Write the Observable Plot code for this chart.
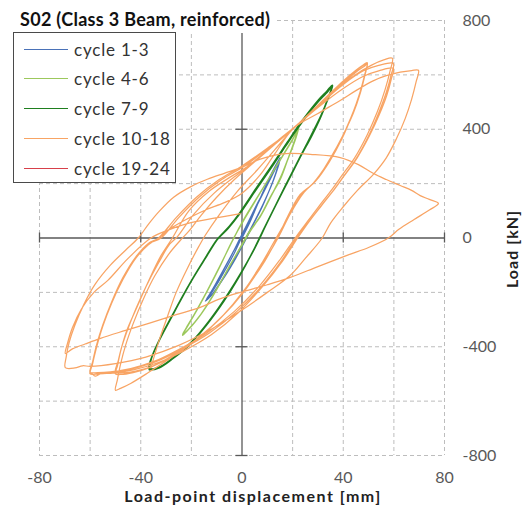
<!DOCTYPE html>
<html>
<head>
<meta charset="utf-8">
<script src="https://cdn.jsdelivr.net/npm/d3@7"></script>
<script src="https://cdn.jsdelivr.net/npm/@observablehq/plot@0.6"></script>
<style>
  html, body { margin: 0; padding: 0; background: #fff; }
  #wrap { position: relative; width: 529px; height: 511px; font-family: Lato, "Open Sans", sans-serif; }
  #title { position: absolute; left: 18px; top: 9px; padding: 0 4px 3px 2px; background: #fff; font-weight: bold; font-size: 18px; letter-spacing: 0.3px; color: #111; line-height: 21px; white-space: nowrap; }
  #legend { position: absolute; left: 13px; top: 32px; width: 161px; height: 149px; border: 1.2px solid #4a4a4a; background: #fff; }
  .row { position: absolute; left: 0; height: 30px; display: flex; align-items: center; }
  .sw { width: 44px; height: 0; margin-left: 10px; margin-right: 6px; }
  .lab { font-size: 17px; letter-spacing: 0.8px; color: #333; white-space: nowrap; }
</style>
</head>
<body>
<div id="wrap">
  <div id="chart"></div>
  <div id="title"></div>
  <div id="legend"></div>
</div>
<script>
// ---------- data ----------
const titleText = "S02 (Class 3 Beam, reinforced)";
const xLabel = "Load-point displacement [mm]";
const yLabel = "Load [kN]";
const seriesNames = ["cycle 1-3", "cycle 4-6", "cycle 7-9", "cycle 10-18", "cycle 19-24"];
const seriesColors = ["#4a72b8", "#9cc85c", "#1f7f1f", "#f8a464", "#d7404a"];
const xTicks = [-80, -40, 0, 40, 80];
const yTicks = [-800, -400, 0, 400, 800];
const xGrid = [-80, -60, -40, -20, 20, 40, 60, 80];
const yGrid = [-800, -600, -400, -200, 200, 400, 600, 800];

// displacement [mm], load [kN]
const cycles1to3 = [
  [0,0],[3,55],[6,120],[9,185],[11,225],[13,262],[15.1,296],
  [13.5,270],[11,222],[7.5,152],[3.5,75],[0,5],[-3,-55],[-6.5,-115],[-10,-172],[-12.5,-208],[-14.5,-232],
  [-13,-220],[-10,-185],[-6,-130],[-2.5,-75],[1,-15],[4.5,50],[8,115],[11,180],[13.2,235],[14.6,280],
  [13.6,262],[10.5,205],[6.5,135],[2.5,60],[-1,-5],[-4.5,-70],[-8,-130],[-11,-180],[-13.5,-220],
  [-12.2,-212],[-9.5,-178],[-5.5,-122],[-2,-62],[1.5,0],[5,62],[8.5,128],[11.5,190],[13.5,240],[15,285],
  [13.8,265],[10.8,210],[7,140],[3,65],[-0.5,0],[-4,-60],[-7.5,-120],[-10.5,-170],[-13,-210],[-14,-225],
  [-12.5,-215],[-9,-170],[-5,-110],[-1.5,-50],[1.5,0]
];
const cycles4to6 = [
  [1.5,0],[4,35],[7.2,80],[11,148],[15.1,215],[18.5,300],[20.8,360],[22.5,412],
  [20.5,372],[17.5,325],[12,240],[6,150],[1.5,82],[-1,40],[-4,-15],[-8.6,-100],[-13.5,-190],[-18.5,-275],[-22,-330],[-23.5,-358],
  [-21.5,-340],[-16.5,-285],[-10.5,-195],[-5.8,-119],[-1,-40],[3,25],[7.2,78],[11.2,148],[15,218],[18.5,300],[21,365],[22.3,405],
  [20,362],[16.5,310],[11,225],[5.5,140],[1,70],[-1.5,30],[-4.5,-22],[-9,-110],[-14,-200],[-19,-285],[-22.5,-340],[-23.2,-352],
  [-21,-335],[-16,-278],[-10,-190],[-5.5,-112],[-0.5,-35],[3.5,30],[7.5,85],[11.5,155],[15.3,225],[18.8,305],[21.3,368],[22.5,410],
  [20.2,365],[16.8,312],[11.5,232],[5.8,145],[1.2,75],[-1.2,35],[-4.2,-18],[-8.8,-105],[-13.8,-195],[-18.8,-280],[-22.3,-335],[-23.5,-355],
  [-21.3,-337],[-16.2,-280],[-10.2,-192],[-5.6,-115],[-1,-40],[3,25]
];
const cycles7to9 = [
  [-1,-140],[4,-55],[9,40],[16.3,175],[23,297],[27.5,375],[30.9,441],[33.8,510],[35.7,562],
  [33.5,540],[30.1,507],[23,422],[17.9,352],[12.4,275],[5.6,183],[-0.7,95],[-5,43],[-9.4,-1],[-14.5,-75],[-19.2,-145],[-23.5,-215],[-27.1,-277],[-32.3,-369],[-35.3,-430],[-36.6,-465],[-36.6,-483],
  [-32.6,-477],[-27.5,-445],[-21,-395],[-14,-320],[-7,-230],[-1,-140],[4,-55],[9,40],[16.3,175],[23,297],[30.9,441],[34,515],[35.5,555],
  [33,530],[29.5,495],[22.5,410],[17.2,338],[11.8,262],[5,170],[-1.2,85],[-5.5,35],[-10,-8],[-15,-82],[-19.8,-155],[-24,-225],[-27.6,-287],[-32.6,-375],[-35.5,-435],[-36.4,-470],[-36.2,-480],
  [-32,-472],[-26.5,-435],[-20,-383],[-13,-305],[-6,-212],[0,-122],[5,-38],[10,58],[17,190],[23.6,310],[31.2,450],[34.3,520],[35.8,560],
  [33.6,535],[30,503],[22.8,418],[17.5,346],[12,268],[5.3,176],[-1,90],[-5.2,40],[-9.7,-4],[-14.8,-78],[-19.5,-150],[-23.8,-220],[-27.4,-282],[-32.5,-372],[-35.4,-432],[-36.5,-468],[-36.6,-485]
];
const cycles10to18 = [
  [-36,-478],[-34.5,-430],[-32.5,-370],[-29.5,-290],[-26,-200],[-21.5,-110],[-17,-30],[-14.5,10],[-9,85],[-2,170],[6,250],[13,325],[20,400],[27,462],[34,525],[40,578],[45,617],[48,637],[49.5,645],
  [48.6,605],[46.6,535],[43.6,455],[39.5,365],[34.5,280],[29,208],[24,165],[18.5,80],[13.5,0],[8,-90],[1,-190],[-8,-290],[-18,-375],[-28,-440],[-37,-495],[-44,-535],[-48,-553],[-50,-560],
  [-49.3,-525],[-48,-465],[-46,-395],[-43,-315],[-39,-225],[-34.5,-140],[-29,-60],[-24.5,-10],[-21,25],[-16,85],[-10,150],[-3,215],[5,280],[13,345],[20.3,403],[27,457],[34,517],[40,570],[45,610],[48.5,633],[49.5,640],
  [48.3,592],[46.2,522],[43,442],[39,360],[34,277],[28,200],[23,160],[18,78],[14,0],[9,-85],[2,-180],[-7,-280],[-17,-365],[-27,-430],[-35,-470],[-42,-490],[-47,-496],[-50,-494],
  [-49,-455],[-47.5,-400],[-45.5,-340],[-42,-265],[-37,-160],[-32,-65],[-27.5,0],[-21,100],[-13,172],[-5,222],[2,262],[9,315],[15,365],[20.3,405],[27,460],[34,520],[40,575],[45,615],[48.5,638],[49.5,642],
  [48.6,600],[46.8,535],[44,460],[40,380],[35,295],[29.5,215],[24.5,168],[19,88],[14.5,5],[8.5,-90],[1,-195],[-9,-300],[-19,-380],[-28,-438],[-36,-475],[-43,-495],[-48,-502],[-50,-500],
  [-49.2,-470],[-47.8,-410],[-45.5,-345],[-42,-262],[-38,-180],[-33,-92],[-28.5,-22],[-25.5,5],[-19,88],[-11,165],[-3,225],[5,282],[12.5,345],[20,402],[28,468],[36,535],[44,595],[51,635],[56,655],[59.4,661],
  [58.5,615],[56.5,545],[53.5,465],[49.5,380],[44.5,295],[39.5,230],[35.5,178],[30,112],[25,50],[21,0],[15,-80],[7,-175],[-3,-270],[-14,-350],[-25,-410],[-35,-455],[-44,-480],[-52,-492],[-57,-495],[-60,-494],
  [-59,-455],[-57.5,-395],[-55,-320],[-51.5,-235],[-47,-145],[-42,-70],[-37,-20],[-33,0],[-26,75],[-18,150],[-9,215],[0,265],[10,330],[20,400],[30,485],[40,565],[48,615],[54,635],[59.8,642],
  [58.9,600],[57,535],[54,460],[50,375],[45,290],[40,225],[36.5,180],[31,115],[26,55],[21.5,0],[15.5,-85],[7.5,-180],[-2,-270],[-13,-350],[-24,-410],[-34,-455],[-44,-482],[-52,-496],[-57,-500],[-60,-500],
  [-59,-462],[-57.5,-400],[-55,-325],[-51.6,-240],[-47,-150],[-42,-72],[-37,-22],[-32,0],[-25,75],[-17,150],[-8,215],[1,265],[11,335],[20.5,405],[30,480],[40,550],[48,595],[54,615],[59.8,624],
  [59,585],[57.2,525],[54.3,455],[50.3,375],[45.5,295],[40.5,230],[37,185],[31.5,120],[26.5,60],[22,0],[16,-85],[8,-180],[-1.5,-275],[-12,-355],[-23,-415],[-33,-458],[-43,-485],[-51,-497],[-56,-500],[-58,-508],[-59.3,-499],[-60,-496],
  [-59,-460],[-57.4,-400],[-55,-325],[-51.5,-240],[-47,-152],[-42,-75],[-37,-25],[-33,0],[-27.5,39],[-20,78],[-14,105],[-7,130],[0,165],[7,230],[13,310],[20.3,403],[30,458],[38.8,506],[45,542],[51.8,578],[57,597],[62.5,610],[67,616],[69.7,617],
  [68.8,575],[67,510],[64.5,440],[61,365],[57,295],[52,235],[45.6,175],[40,115],[35,55],[31.7,0],[25,-75],[19,-138],[10,-200],[0,-265],[-12,-335],[-25,-395],[-38,-438],[-50,-462],[-60,-472],[-63,-470],[-66,-478],[-69.8,-477],
  [-69.5,-440],[-68.3,-385],[-66,-320],[-62.5,-245],[-58,-170],[-52,-100],[-46,-45],[-41,0],[-37,50],[-33,95],[-27,150],[-20,190],[-13.7,216],[-7,238],[-0.7,258],[7.2,290],[13,305],[19,311],[27,308],[38.8,296],[46,270],[51.8,238],[57,215],[62.5,193],[67,175],[70.4,156],[74,142],[77.6,127],
  [74,103],[68,68],[62,32],[57.8,0],[50,-35],[42,-62],[30,-105],[19.1,-145],[10,-172],[-0.7,-200],[-9,-225],[-16.5,-255],[-26,-282],[-36.2,-312],[-46,-340],[-55.9,-369],[-62,-390],[-67,-408],[-69.8,-425],
  [-69,-390],[-67,-330],[-63.5,-262],[-58.5,-200],[-53,-156],[-45,-75],[-36,0],[-29,30],[-21.6,53],[-11,73],[-0.7,90]
];
const cycles19to24 = [];

const allSeries = [cycles1to3, cycles4to6, cycles7to9, cycles10to18, cycles19to24];
const widths = [1.2, 1.3, 1.6, 1.25, 1.2];

// ---------- chart ----------
const axisColor = "#595959";
const lineMarks = allSeries.map((s, i) =>
  Plot.line(s, {x: d => d[0], y: d => d[1], stroke: seriesColors[i], strokeWidth: widths[i], curve: "catmull-rom"})
);

const chart = Plot.plot({
  width: 529,
  height: 511,
  marginLeft: 39,
  marginRight: 85,
  marginTop: 20,
  marginBottom: 56,
  style: {fontFamily: "Lato, 'Open Sans', sans-serif", fontSize: "16px", color: axisColor, background: "#fff", overflow: "visible"},
  x: {domain: [-80, 80], ticks: xTicks, tickSize: 0, tickPadding: 16, label: null, tickFormat: d => String(d)},
  y: {domain: [-800, 800], axis: "right", ticks: yTicks, tickSize: 0, tickPadding: 18, label: null, tickFormat: d => String(d)},
  marks: [
    Plot.ruleX(xGrid, {x: d => d, stroke: "#bdbdbd", strokeWidth: 1, strokeDasharray: "4,3"}),
    Plot.ruleY(yGrid, {y: d => d, stroke: "#bdbdbd", strokeWidth: 1, strokeDasharray: "4,3"}),
    Plot.ruleX([0], {stroke: axisColor, strokeWidth: 1.3}),
    Plot.ruleY([0], {stroke: axisColor, strokeWidth: 1.3}),
    Plot.ruleX(xTicks, {x: d => d, y1: d => 0, y2: d => 0, insetTop: -5, insetBottom: -5, stroke: axisColor, strokeWidth: 1.3}),
    Plot.ruleY(yTicks, {y: d => d, x1: d => 0, x2: d => 0, insetLeft: -6, insetRight: -6, stroke: axisColor, strokeWidth: 1.3}),
    ...lineMarks,
    Plot.text([xLabel], {text: d => d, frameAnchor: "bottom", dx: 11, dy: 46, fontWeight: "bold", fontSize: 16, fill: "#222"}),
    Plot.text([yLabel], {text: d => d, frameAnchor: "right", textAnchor: "middle", rotate: -90, dx: 68, dy: 11, fontWeight: "bold", fontSize: 16, fill: "#222"})
  ]
});
document.getElementById("chart").appendChild(chart);
// widen the axis titles like the original's font
d3.select(chart).selectAll("text").filter(function () { return this.textContent === xLabel; }).style("letter-spacing", "1.5px");
d3.select(chart).selectAll("text").filter(function () { return this.textContent === yLabel; }).style("letter-spacing", "1px");

// title and legend (overlaid like the original chart)
document.getElementById("title").textContent = titleText;
const legend = document.getElementById("legend");
seriesNames.forEach((name, i) => {
  const row = document.createElement("div");
  row.className = "row";
  row.style.top = (1 + i * 29.8) + "px";
  const sw = document.createElement("div");
  sw.className = "sw";
  sw.style.borderTop = "1.6px solid " + seriesColors[i];
  const lab = document.createElement("span");
  lab.className = "lab";
  lab.textContent = name;
  row.appendChild(sw);
  row.appendChild(lab);
  legend.appendChild(row);
});
</script>
</body>
</html>
